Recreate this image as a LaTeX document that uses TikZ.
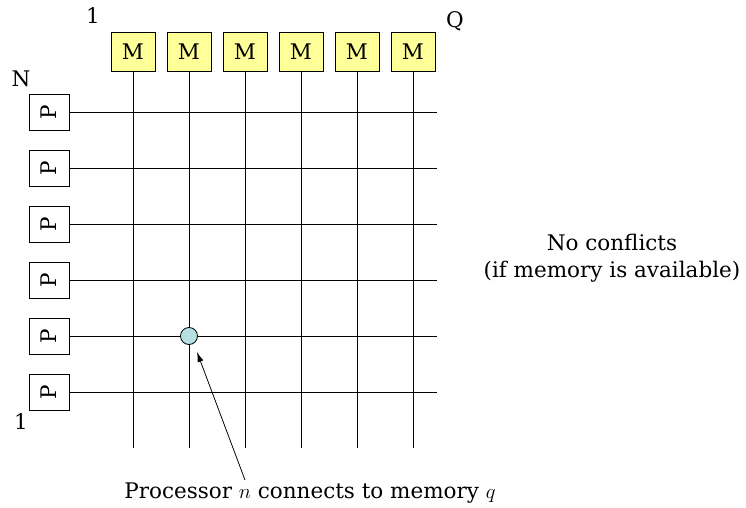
\documentclass[tikz,border=0pt]{standalone}
\usepackage{fontspec}
\setmainfont{DejaVu Serif}
\usetikzlibrary{arrows.meta}
\definecolor{memfill}{RGB}{255,255,153}
\definecolor{switchfill}{RGB}{182,224,226}
\begin{document}
\begin{tikzpicture}[x=1pt,y=-1pt,
  every node/.style={font=\fontsize{21.5}{27}\selectfont},
  membox/.style={draw, line width=0.8pt, fill=memfill, minimum width=44pt, minimum height=39pt, inner sep=0pt},
  procbox/.style={draw, line width=0.8pt, fill=white, minimum width=40pt, minimum height=36pt, inner sep=0pt},
  wire/.style={line width=0.8pt},
  switchpt/.style={circle, draw, line width=0.8pt, fill=switchfill, minimum size=17pt, inner sep=0pt},
  plain/.style={inner sep=0pt}
]
\useasboundingbox (0,0) rectangle (746,508);

% memory modules along the top, each with its column wire
\foreach \i in {1,...,6} {
  \node[membox] (M\i) at ({133+56*(\i-1)},51.5) {M};
  \coordinate (C\i) at ({133+56*(\i-1)},448);
  \draw[wire] (M\i.south) -- (C\i);
}

% processors down the left, each with its row wire
\foreach \j in {1,...,6} {
  \node[procbox] (P\j) at (49,{392-56*(\j-1)}) {\rotatebox{90}{P}};
  \coordinate (R\j) at (437,{392-56*(\j-1)});
  \draw[wire] (P\j.east) -- (R\j);
}

% index labels
\node[plain] (topone) at (93,16) {1};
\node[plain] (topq) at (455,21) {Q};
\node[plain] (leftn) at (21,79) {N};
\node[plain] (leftone) at (21,422) {1};

% closed crosspoint: processor n to memory q
\node[switchpt] (X) at (189,336) {};

\node[plain, align=center] (note) at (612,258) {No conflicts\\(if memory is available)};

\node[plain, anchor=base] (caption) at (310,498) {Processor $n$ connects to memory $q$};
\coordinate (tail) at (245,480);
\draw[wire, -{Latex[length=10pt,width=6pt]}] (tail) -- (197,352);
\end{tikzpicture}
\end{document}
